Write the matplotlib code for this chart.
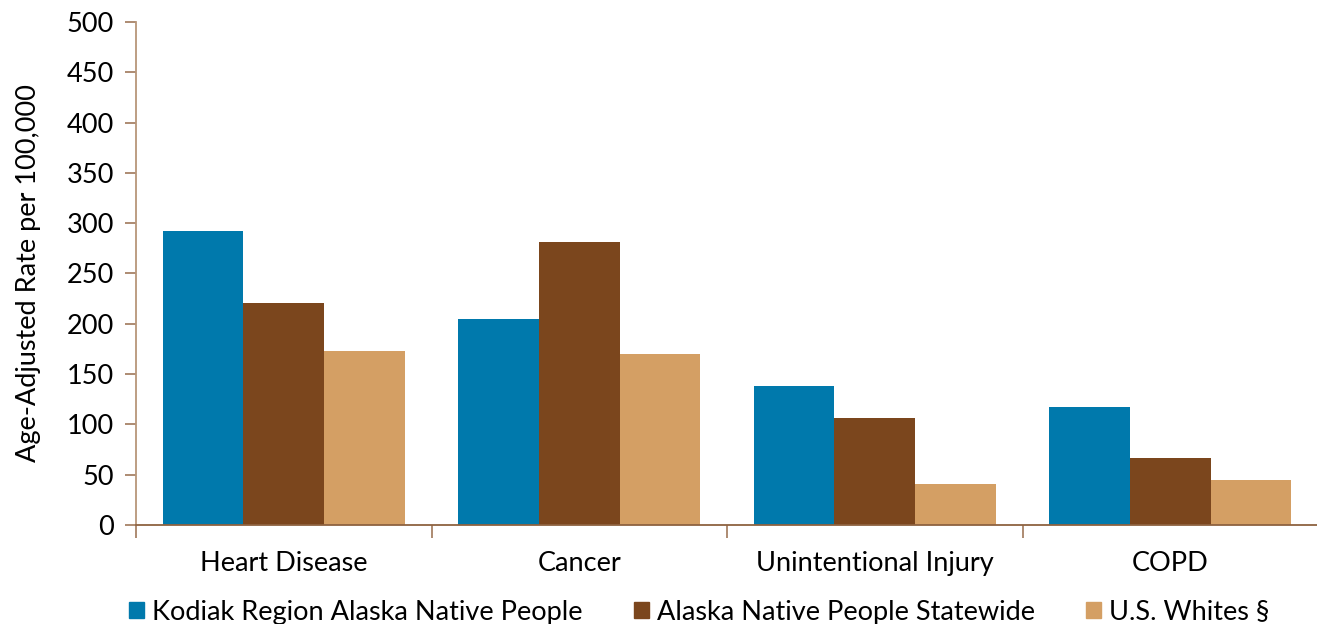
import numpy as np
import matplotlib.pyplot as plt
from matplotlib.patches import Patch

# Dữ liệu
categories = ['Heart Disease', 'Cancer', 'Unintentional Injury', 'COPD']
series_names = ['Kodiak Region Alaska Native People', 'Alaska Native People Statewide', 'U.S. Whites §']
kodiak = [292, 205, 138, 117]
statewide = [221, 281, 106, 67]
us_whites = [173, 170, 41, 45]
colors = ['#0079AC', '#7B461D', '#D49F64']

plt.rcParams['font.family'] = ['Lato', 'DejaVu Sans']

fig = plt.figure(figsize=(13.17, 6.24), dpi=100)
ax = fig.add_axes([0.1033, 0.1587, 0.8975, 0.806])

x = np.arange(len(categories))
w = 0.273
for i, vals in enumerate([kodiak, statewide, us_whites]):
    ax.bar(x + (i - 1) * w, vals, width=w, color=colors[i], edgecolor='none')

ax.set_xlim(-0.5, len(categories) - 0.5)
ax.set_ylim(0, 500)
ax.set_yticks(range(0, 501, 50))
ax.set_xticks(x)
ax.set_xticklabels(categories)
ax.set_xticks(np.arange(-0.5, len(categories), 1), minor=True)
ax.tick_params(axis='x', which='major', length=0, pad=19, labelsize=19.5)
ax.tick_params(axis='x', which='minor', length=9, color='#A0785A', width=1.2)
ax.tick_params(axis='y', length=8, color='#A0785A', width=1.2, labelsize=19.5, pad=8)

for s in ['top', 'right']:
    ax.spines[s].set_visible(False)
ax.spines['left'].set_color('#B8967A')
ax.spines['left'].set_linewidth(1.3)
ax.spines['bottom'].set_color('#8E6240')
ax.spines['bottom'].set_linewidth(1.3)

ax.set_ylabel('Age-Adjusted Rate per 100,000', fontsize=19.5, labelpad=18)

handles = [Patch(color=c) for c in colors]
fig.legend(handles, series_names, loc='lower center', bbox_to_anchor=(0.531, -0.04), ncol=3,
           frameon=False, fontsize=19.5, handlelength=0.55, handleheight=0.55,
           handletextpad=0.3, columnspacing=1.9)

plt.savefig('out.png', dpi=100)
